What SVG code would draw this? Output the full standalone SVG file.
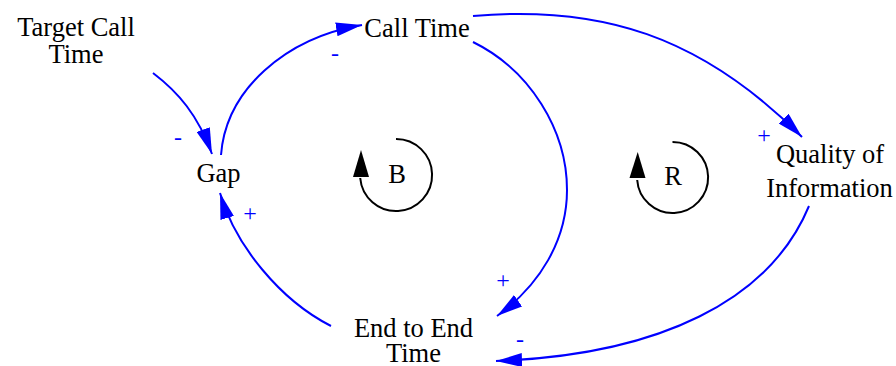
<svg xmlns="http://www.w3.org/2000/svg" width="896" height="366" viewBox="0 0 896 366">
<style>
  .node { font-family: 'Liberation Serif', 'DejaVu Serif', 'Times New Roman', serif; font-size: 26.5px; fill: #000; text-anchor: middle; }
  .sign { font-family: 'Liberation Serif', 'DejaVu Serif', 'Times New Roman', serif; font-size: 24px; fill: #0000ff; text-anchor: middle; }
  .link { fill: none; stroke: #0000ff; stroke-width: 2; marker-end: url(#arrow); }
  .loop { fill: none; stroke: #000; stroke-width: 2; }
  .loophead { fill: #000; }
</style>
<defs>
  <marker id="arrow" viewBox="0 0 26 14" markerWidth="26" markerHeight="14" markerUnits="userSpaceOnUse" refX="26" refY="7" orient="auto">
    <path d="M0,0 L26,7 L0,14 z" fill="#0000ff"/>
  </marker>
</defs>
<rect width="896" height="366" fill="#fff"/>
<g id="connectors">
  <path class="link" d="M153,73 C178,92 198,115 212,154"/>
  <path class="link" d="M221,155 C226,90 285,38 362,25"/>
  <path class="link" d="M473,16 C600,5 700,35 802,137"/>
  <path class="link" d="M473,42 C530,70 567,130 567,190 C567,240 540,285 497,316"/>
  <path class="link" d="M331,326 C280,300 235,245 220,193"/>
  <path class="link" d="M809,206 C770,300 660,355 496,361"/>
  <text class="sign" x="178" y="145">-</text>
  <text class="sign" x="335" y="61">-</text>
  <text class="sign" x="764" y="143">+</text>
  <text class="sign" x="503" y="288">+</text>
  <text class="sign" x="250" y="221">+</text>
  <text class="sign" x="520" y="347">-</text>
</g>
<g id="target-call-time">
  <text class="node" x="76" y="36">Target Call</text>
  <text class="node" x="76" y="63">Time</text>
</g>
<g id="call-time">
  <text class="node" x="417" y="37">Call Time</text>
</g>
<g id="gap">
  <text class="node" x="218.5" y="182">Gap</text>
</g>
<g id="quality-of-information">
  <text class="node" x="830" y="163">Quality of</text>
  <text class="node" x="829.5" y="197">Information</text>
</g>
<g id="end-to-end-time">
  <text class="node" x="413.5" y="337">End to End</text>
  <text class="node" x="413.5" y="362">Time</text>
</g>
<g id="loop-b">
  <path class="loop" d="M396,139 A36,36 0 1 1 360.2,178"/>
  <polygon class="loophead" points="361,150 353,177 369,177"/>
  <text class="node" x="397" y="183">B</text>
</g>
<g id="loop-r">
  <path class="loop" d="M672.5,142 A35.5,35.5 0 1 1 637.2,180"/>
  <polygon class="loophead" points="637.7,152 629.5,178 645.5,178"/>
  <text class="node" x="673" y="185">R</text>
</g>
</svg>
